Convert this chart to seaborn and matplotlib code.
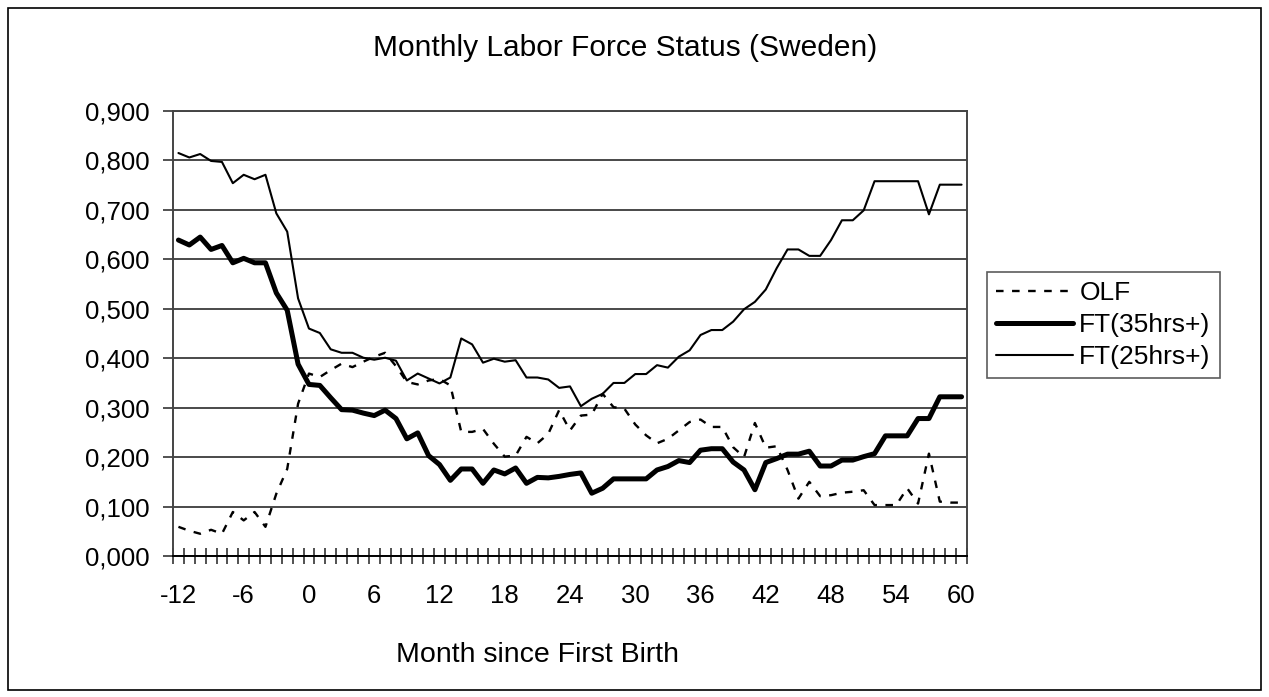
import numpy as np
import pandas as pd
import matplotlib
matplotlib.use("Agg")
import matplotlib.pyplot as plt
import seaborn as sns
from matplotlib.ticker import FuncFormatter, FixedLocator

months = list(range(-12, 61))

olf = [0.059, 0.051, 0.045, 0.053, 0.045, 0.089, 0.072, 0.089, 0.059, 0.126,
       0.176, 0.308, 0.369, 0.362, 0.376, 0.389, 0.382, 0.393, 0.403, 0.411,
       0.384, 0.352, 0.347, 0.355, 0.358, 0.345, 0.251, 0.251, 0.257, 0.227,
       0.201, 0.203, 0.241, 0.228, 0.247, 0.295, 0.254, 0.284, 0.286, 0.328,
       0.301, 0.298, 0.266, 0.244, 0.228, 0.237, 0.254, 0.271, 0.276, 0.261,
       0.261, 0.220, 0.200, 0.269, 0.219, 0.222, 0.174, 0.116, 0.150, 0.121,
       0.123, 0.128, 0.130, 0.133, 0.103, 0.103, 0.103, 0.137, 0.106, 0.207,
       0.110, 0.108, 0.108]

ft35 = [0.639, 0.629, 0.645, 0.620, 0.628, 0.593, 0.602, 0.593, 0.593, 0.532,
        0.497, 0.388, 0.347, 0.345, 0.320, 0.296, 0.295, 0.289, 0.284, 0.295,
        0.278, 0.237, 0.249, 0.203, 0.185, 0.153, 0.176, 0.176, 0.147, 0.174,
        0.166, 0.178, 0.147, 0.159, 0.158, 0.161, 0.165, 0.168, 0.127, 0.137,
        0.156, 0.156, 0.156, 0.156, 0.174, 0.181, 0.193, 0.189, 0.214, 0.217,
        0.217, 0.190, 0.174, 0.134, 0.189, 0.197, 0.206, 0.206, 0.212, 0.182,
        0.182, 0.194, 0.194, 0.201, 0.207, 0.243, 0.243, 0.243, 0.278, 0.278,
        0.322, 0.322, 0.322]

ft25 = [0.815, 0.806, 0.813, 0.799, 0.797, 0.754, 0.771, 0.762, 0.771, 0.693,
        0.656, 0.521, 0.460, 0.451, 0.418, 0.411, 0.411, 0.401, 0.397, 0.401,
        0.395, 0.355, 0.369, 0.359, 0.349, 0.361, 0.440, 0.428, 0.391, 0.399,
        0.393, 0.396, 0.361, 0.361, 0.357, 0.340, 0.343, 0.303, 0.318, 0.328,
        0.350, 0.350, 0.368, 0.368, 0.386, 0.381, 0.403, 0.416, 0.447, 0.457,
        0.457, 0.474, 0.499, 0.514, 0.539, 0.582, 0.620, 0.620, 0.607, 0.607,
        0.639, 0.679, 0.679, 0.699, 0.758, 0.758, 0.758, 0.758, 0.758, 0.691,
        0.751, 0.751, 0.751]

series_names = ["OLF", "FT(35hrs+)", "FT(25hrs+)"]
tick_labels = list(range(-12, 61, 6))

sns.set_theme(style="white")
plt.rcParams['font.family'] = ['Liberation Sans', 'DejaVu Sans']
plt.rcParams['text.color'] = 'black'
plt.rcParams['xtick.labelcolor'] = 'black'
plt.rcParams['ytick.labelcolor'] = 'black'

fig = plt.figure(figsize=(12.69, 6.97), dpi=100)
ax = fig.add_axes([173/1269, 141/697, 794/1269, 445/697])

df = pd.DataFrame({"month": months, "OLF": olf, "FT35": ft35, "FT25": ft25})

sns.lineplot(data=df, x="month", y="OLF", ax=ax, color="black", linewidth=1.7,
             label=series_names[0])
sns.lineplot(data=df, x="month", y="FT35", ax=ax, color="black", linewidth=3.6,
             label=series_names[1])
sns.lineplot(data=df, x="month", y="FT25", ax=ax, color="black", linewidth=1.5,
             label=series_names[2])
ax.lines[0].set_dashes((3.2, 3.6))
ax.lines[1].set_solid_joinstyle("round")

ax.set_xlim(-12.5, 60.5)
ax.set_ylim(0, 0.9)
ax.set_yticks(np.arange(0, 0.91, 0.1))
ax.yaxis.set_major_formatter(FuncFormatter(lambda v, p: f"{v:.3f}".replace(".", ",")))
ax.yaxis.grid(True, color="#3a3a3a", linewidth=1.3)
ax.xaxis.grid(False)
ax.set_axisbelow(True)

ax.set_xticks(tick_labels)
ax.set_xticklabels([str(t) for t in tick_labels])
ax.xaxis.set_minor_locator(FixedLocator(np.arange(-12.5, 61, 1)))
ax.tick_params(axis="x", which="major", length=0, pad=20, labelsize=18.5, labelcolor="black")
ax.tick_params(axis="x", which="minor", direction="inout", length=11, width=1.2, color="#333333", bottom=True)
ax.tick_params(axis="y", which="major", direction="out", length=7, width=1.2, color="#333333", left=True,
               labelsize=18.5, pad=10, labelcolor="black")

for s in ax.spines.values():
    s.set_color("#444444")
    s.set_linewidth(1.4)
ax.spines["bottom"].set_color("black")

ax.set_xlabel("")
ax.set_ylabel("")

leg = ax.legend(loc="upper left", bbox_to_anchor=(987/1269, 425/697), bbox_transform=fig.transFigure,
                frameon=True, fancybox=False, shadow=False, fontsize=19, handlelength=2.9,
                handletextpad=0.25, borderpad=0.35, labelspacing=0.3, borderaxespad=0)
leg.get_frame().set_edgecolor("#333333")
leg.get_frame().set_linewidth(1.2)
for t in leg.get_texts():
    t.set_color("black")

fig.text(625/1269, 1 - 48/697, "Monthly Labor Force Status (Sweden)", ha="center", va="center",
         fontsize=21.5, color="black")
fig.text(538/1269, 1 - 655/697, "Month since First Birth", ha="center", va="center",
         fontsize=20.5, color="black")

border = plt.Rectangle((8/1269, 7/697), 1253/1269, 682/697, transform=fig.transFigure,
                       fill=False, edgecolor="black", linewidth=1.2)
fig.patches.append(border)

fig.savefig("out.png", dpi=100, facecolor="white")
